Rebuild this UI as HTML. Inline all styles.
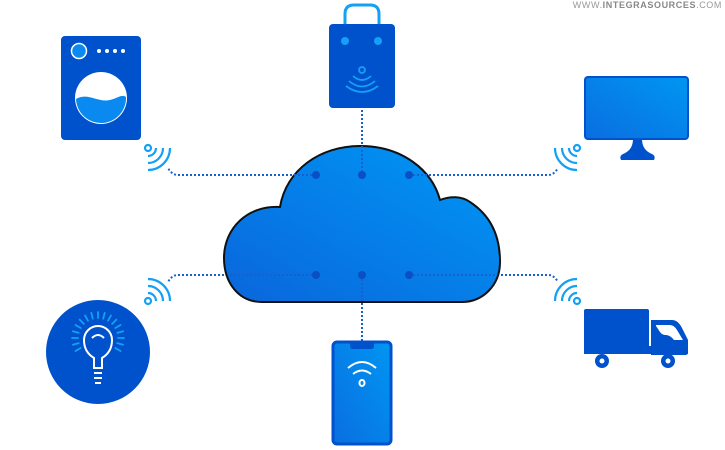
<!DOCTYPE html>
<html><head><style>
html,body{margin:0;padding:0;background:#fff;width:725px;height:450px;overflow:hidden}
svg{display:block}
</style></head><body>
<svg width="725" height="450" viewBox="0 0 725 450" xmlns="http://www.w3.org/2000/svg">
<defs>
<linearGradient id="cg" x1="0" y1="1" x2="1" y2="0">
<stop offset="0" stop-color="#0a66dc"/><stop offset="1" stop-color="#0098f5"/></linearGradient>
<linearGradient id="sg" x1="0" y1="1" x2="1" y2="0">
<stop offset="0" stop-color="#0a6ee0"/><stop offset="1" stop-color="#0096f2"/></linearGradient>
</defs>
<text x="722" y="8" text-anchor="end" font-family="Liberation Sans, sans-serif" font-size="9" fill="#999" letter-spacing="0.6">WWW.<tspan font-weight="bold" fill="#888">INTEGRASOURCES</tspan>.COM</text>

<!-- connectors -->
<g fill="none" stroke="#1a5fd0" stroke-width="2" stroke-dasharray="2 2">
<path d="M316 175 H178 Q172 175 168 168"/>
<path d="M409 175 H548 Q554 175 558 168"/>
<path d="M316 275 H178 Q172 275 168 282"/>
<path d="M409 275 H548 Q554 275 558 282"/>
<path d="M362 110 V175"/>
<path d="M362 275 V342"/>
</g>

<!-- cloud -->
<path d="M262 302 C238 302 224 282 224 258 C224 228 248 205 280 207 C286 170 320 146 360 146 C402 146 432 170 440 200 C450 196 462 196 470 202 C488 214 500 232 500 262 C500 286 482 302 462 302 Z" fill="url(#cg)" stroke="#111" stroke-width="2"/>

<!-- redraw connectors inside cloud -->
<g fill="none" stroke="#1a5fd0" stroke-width="2" stroke-dasharray="2 2">
<path d="M230 175 H316"/><path d="M409 175 H440"/>
<path d="M230 275 H316"/><path d="M409 275 H496"/>
<path d="M362 146 V175"/><path d="M362 275 V302"/>
</g>
<g fill="#0a4fc4">
<circle cx="316" cy="175" r="4"/><circle cx="362" cy="175" r="4"/><circle cx="409" cy="175" r="4"/>
<circle cx="316" cy="275" r="4"/><circle cx="362" cy="275" r="4"/><circle cx="409" cy="275" r="4"/>
</g>

<!-- wifi signals -->
<g fill="none" stroke="#14a0f5" stroke-width="2.2">
<g transform="translate(148,148)"><circle r="3"/><path d="M0 8 A8 8 0 0 0 8 0"/><path d="M0 15 A15 15 0 0 0 15 0"/><path d="M0 22 A22 22 0 0 0 22 0" transform="rotate(0)"/></g>
<g transform="translate(577,148)"><circle r="3"/><path d="M0 8 A8 8 0 0 1 -8 0"/><path d="M0 15 A15 15 0 0 1 -15 0"/><path d="M0 22 A22 22 0 0 1 -22 0"/></g>
<g transform="translate(148,301)"><circle r="3"/><path d="M0 -8 A8 8 0 0 1 8 0"/><path d="M0 -15 A15 15 0 0 1 15 0"/><path d="M0 -22 A22 22 0 0 1 22 0"/></g>
<g transform="translate(577,301)"><circle r="3"/><path d="M0 -8 A8 8 0 0 0 -8 0"/><path d="M0 -15 A15 15 0 0 0 -15 0"/><path d="M0 -22 A22 22 0 0 0 -22 0"/></g>
</g>

<!-- washer -->
<rect x="61" y="36" width="80" height="104" rx="4" fill="#0052cc"/>
<circle cx="79" cy="51" r="7.5" fill="#0a8af0" stroke="#fff" stroke-width="1.5"/>
<g fill="#fff"><circle cx="99" cy="51" r="2"/><circle cx="107" cy="51" r="2"/><circle cx="115" cy="51" r="2"/><circle cx="123" cy="51" r="2"/></g>
<circle cx="101" cy="98" r="26" fill="#fff"/>
<path d="M76 99 C88 92 98 103 110 100 C118 98 122 94 126 97 A25 25 0 0 1 76 99 Z" fill="#0a8af0"/>

<!-- bag -->
<path d="M345 41 V14 Q345 5 354 5 H370 Q379 5 379 14 V41" fill="none" stroke="#14a0f5" stroke-width="3"/>
<rect x="329" y="24" width="66" height="84" rx="4" fill="#0052cc"/>
<circle cx="345" cy="41" r="4" fill="#14a0f5"/><circle cx="378" cy="41" r="4" fill="#14a0f5"/>
<g fill="none" stroke="#14a0f5" stroke-width="1.8"><circle cx="362" cy="70" r="3"/>
<path d="M353 76 Q362 84 371 76"/><path d="M349 81 Q362 92 375 81"/><path d="M346 86 Q362 98 378 86"/></g>

<!-- monitor -->
<rect x="585" y="77" width="103" height="62" rx="3" fill="url(#sg)" stroke="#0052cc" stroke-width="2"/>
<path d="M633 139 H642 Q642 150 652 154 Q656 156 654 160 H621 Q619 156 623 154 Q633 150 633 139 Z" fill="#0052cc"/>

<!-- bulb -->
<circle cx="98" cy="352" r="52" fill="#0052cc"/>
<g stroke="#14a0f5" stroke-width="1.8" stroke-linecap="round" transform="translate(98,338)">
<g id="ray"><line x1="0" y1="-26" x2="0" y2="-20"/></g>
<use href="#ray" transform="rotate(-75)"/><use href="#ray" transform="rotate(-60)"/><use href="#ray" transform="rotate(-45)"/><use href="#ray" transform="rotate(-30)"/><use href="#ray" transform="rotate(-15)"/>
<use href="#ray" transform="rotate(15)"/><use href="#ray" transform="rotate(30)"/><use href="#ray" transform="rotate(45)"/><use href="#ray" transform="rotate(60)"/><use href="#ray" transform="rotate(75)"/>
<use href="#ray" transform="rotate(-90)"/><use href="#ray" transform="rotate(90)"/><use href="#ray" transform="rotate(-105)"/><use href="#ray" transform="rotate(105)"/><use href="#ray" transform="rotate(-120)"/><use href="#ray" transform="rotate(120)"/>
</g>
<g fill="none" stroke="#fff" stroke-width="2">
<path d="M94 368 V358 Q84 352 84 340 A14 14 0 0 1 112 340 Q112 352 102 358 V368 Z"/>
<path d="M92 338 Q98 332 104 338"/>
<path d="M94 373 H102 M94 378 H102 M95 383 H101"/>
</g>

<!-- phone -->
<rect x="333" y="342" width="58" height="102" rx="4" fill="url(#sg)" stroke="#0052cc" stroke-width="3"/>
<path d="M350 342 H374 V346 Q374 349 371 349 H353 Q350 349 350 346 Z" fill="#0052cc"/>
<g fill="none" stroke="#fff" stroke-width="2"><path d="M348 368 Q362 356 376 368"/><path d="M353 374 Q362 367 371 374"/><ellipse cx="362" cy="383" rx="2.5" ry="3"/></g>

<!-- truck -->
<rect x="584" y="309" width="65" height="43" rx="2" fill="#0052cc"/>
<path d="M651 320 H672 Q678 320 682 328 L688 340 V352 Q688 355 685 355 H651 Z" fill="#0052cc"/>
<path d="M656 325 H670 Q674 325 677 330 L683 340 H674 Q670 335 666 335 Q662 335 660 332 L656 326 Z" fill="#fff"/>
<rect x="584" y="346" width="104" height="8" fill="#0052cc"/>
<circle cx="602" cy="361" r="7" fill="#0052cc"/><circle cx="602" cy="361" r="2.5" fill="#fff"/>
<circle cx="668" cy="361" r="7" fill="#0052cc"/><circle cx="668" cy="361" r="2.5" fill="#fff"/>
</svg>
</body></html>
